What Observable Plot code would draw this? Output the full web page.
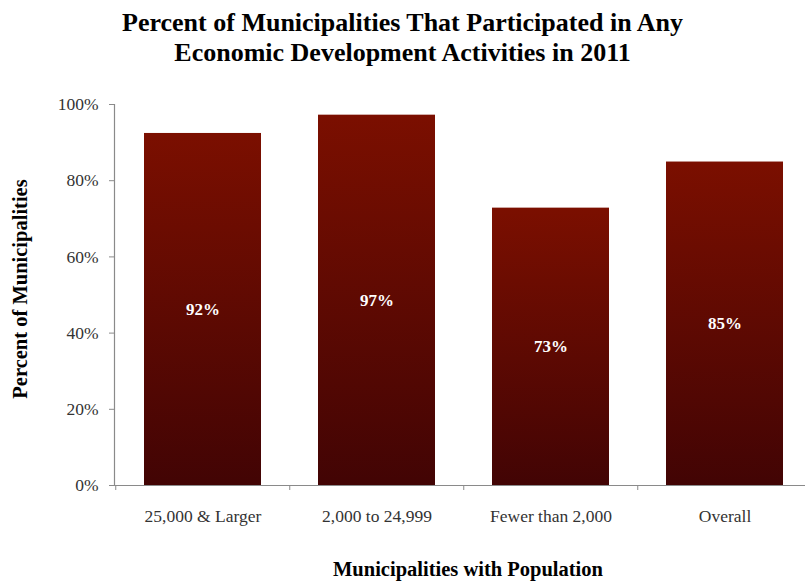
<!DOCTYPE html>
<html>
<head>
<meta charset="utf-8">
<script src="https://cdn.jsdelivr.net/npm/d3@7"></script>
<script src="https://cdn.jsdelivr.net/npm/@observablehq/plot@0.6"></script>
<style>
  body { margin: 0; background: #fff; width: 805px; height: 588px; overflow: hidden; }
  #title { font-family: "Liberation Serif", "DejaVu Serif", serif; font-weight: bold; font-size: 26px;
           text-align: center; line-height: 30px; color: #000; padding-top: 8px; height: 73px; width: 805px; box-sizing: border-box; }
  #chart svg { overflow: visible; }
</style>
</head>
<body>
<div id="title">Percent of Municipalities That Participated in Any<br>Economic Development Activities in 2011</div>
<div id="chart"></div>
<script>
const categories = ["25,000 & Larger", "2,000 to 24,999", "Fewer than 2,000", "Overall"];
const values = [92.4, 97.2, 72.8, 84.9];
const valueLabels = ["92%", "97%", "73%", "85%"];
const yTicks = [0, 20, 40, 60, 80, 100];
const xTitle = "Municipalities with Population";
const yTitle = "Percent of Municipalities";

const data = categories.map((c, i) => ({category: c, value: values[i], label: valueLabels[i]}));
const font = '"Liberation Serif", "DejaVu Serif", serif';

const chart = Plot.plot({
  width: 805,
  height: 515,
  marginTop: 31,
  marginBottom: 103,
  marginLeft: 114,
  marginRight: 0,
  style: {fontFamily: font, fontSize: "17px", color: "#333", background: "transparent"},
  x: {domain: categories, range: [114, 812], paddingInner: 0.33, paddingOuter: 0.165},
  y: {domain: [0, 100]},
  marks: [
    Plot.barY(data, {x: "category", y: "value", fill: "url(#barGrad)", style: "filter: drop-shadow(2px 2px 2px rgba(0,0,0,0.35))"}),
    Plot.text(data, {x: "category", y: d => d.value / 2, text: "label", fill: "#fff", fontWeight: "bold", fontSize: 17}),
    Plot.ruleY([0], {stroke: "#8a8a8a", strokeWidth: 1.2}),
    Plot.frame({anchor: "left", stroke: "#8a8a8a", strokeWidth: 1.2}),
    Plot.axisY({ticks: yTicks, tickFormat: d => d + "%", tickSize: 5, tickPadding: 11, fontSize: 17.5, stroke: "#8a8a8a", fill: "#333", label: null}),
    Plot.axisX({tickSize: 5, dx: -87.25, tickFormat: () => "", stroke: "#8a8a8a", label: null}),
    Plot.axisX({tickSize: 0, tickPadding: 24, fontSize: 17.5, fill: "#333", label: null}),
    Plot.text([xTitle], {frameAnchor: "bottom", dy: 90, fontWeight: "bold", fontSize: 20.5, fill: "#000", dx: 8}),
    Plot.text([yTitle], {frameAnchor: "left", textAnchor: "middle", rotate: -90, dx: -94, dy: -6, fontWeight: "bold", fontSize: 20.5, fill: "#000"})
  ]
});

const svg = d3.select(chart);
const defs = svg.insert("defs", ":first-child");
const g = defs.append("linearGradient").attr("id", "barGrad").attr("x1", 0).attr("y1", 0).attr("x2", 0).attr("y2", 1);
g.append("stop").attr("offset", "0%").attr("stop-color", "#7b0f00");
g.append("stop").attr("offset", "100%").attr("stop-color", "#420404");

document.getElementById("chart").appendChild(chart);
</script>
</body>
</html>
